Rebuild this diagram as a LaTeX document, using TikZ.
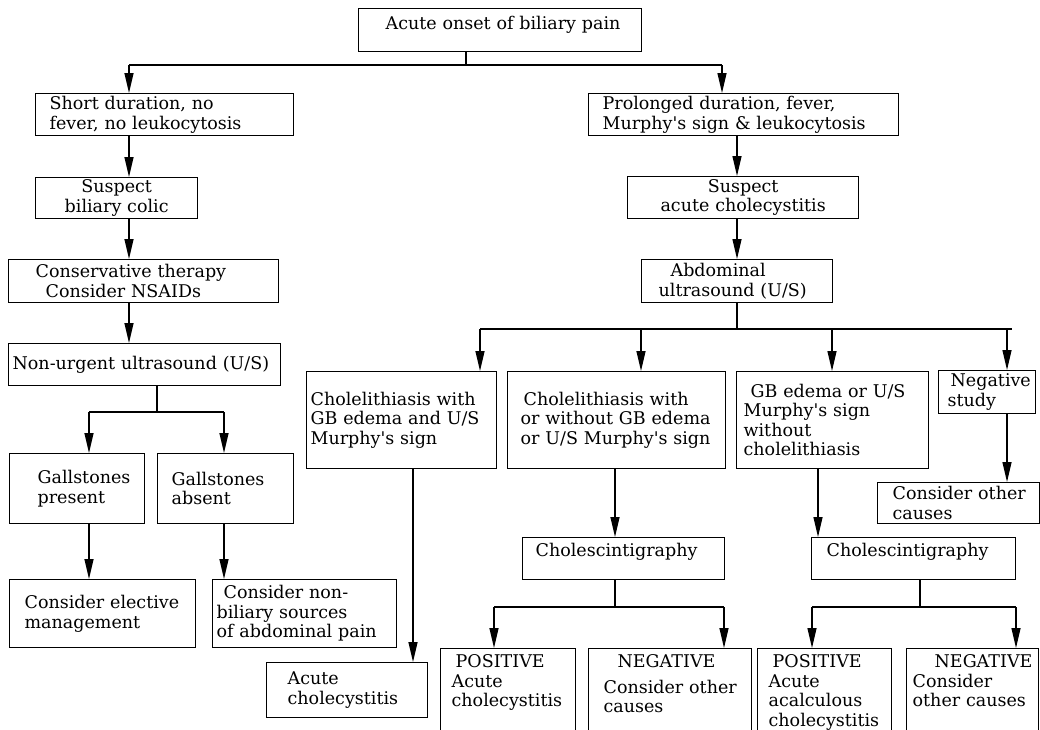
\documentclass[tikz,border=0pt]{standalone}
\usepackage{fontspec}
\setmainfont{DejaVu Serif}
\usetikzlibrary{arrows.meta}

\begin{document}
\begin{tikzpicture}[x=1pt,y=-1pt,
  box/.style={draw,line width=1.3pt,anchor=north west,align=left,
    inner xsep=4pt,inner ysep=2pt,font=\fontsize{17.5}{19.5}\selectfont},
  cell/.style 2 args={text width=#1pt-8pt,minimum height=#2pt},
  toptext/.style 2 args={inner ysep=0pt,text height=#1pt,text depth=#2pt},
  line/.style={line width=1.3pt},
  arr/.style={line,-{Triangle[length=20pt,width=9pt]}}]
\useasboundingbox (0,0) rectangle (1040,729);
\clip (0,0) rectangle (1040,729);

\node[box,cell={283}{0},toptext={21}{22}] (onset) at (358,8) {\hspace*{23pt}Acute onset of biliary pain};

\node[box,cell={258}{42}] (short) at (35,93) {\hspace*{10pt}Short duration, no\\\hspace*{10pt}fever, no leukocytosis};
\node[box,cell={162}{41},align=center] (colic) at (35,177) {Suspect\\biliary colic};
\node[box,cell={270}{43}] (conservative) at (8,259) {\hspace*{23pt}Conservative therapy\\\hspace*{33pt}Consider NSAIDs};
\node[box,cell={272}{42}] (nonurgent) at (8,343) {Non-urgent ultrasound (U/S)};
\node[box,cell={135}{70}] (present) at (9,453) {\hspace*{24pt}Gallstones\\\hspace*{24pt}present};
\node[box,cell={136}{70}] (absent) at (157,453) {\hspace*{10pt}Gallstones\\\hspace*{10pt}absent};
\node[box,cell={186}{68}] (elective) at (9,579) {\hspace*{11pt}Consider elective\\\hspace*{11pt}management};
\node[box,cell={184}{68}] (nonbiliary) at (212,579) {\hspace*{7pt}Consider non-\\biliary sources\\of abdominal pain};

\node[box,cell={310}{42}] (prolonged) at (588,93) {\hspace*{10pt}Prolonged duration, fever,\\\hspace*{10pt}Murphy\textquotesingle s sign \& leukocytosis};
\node[box,cell={231}{42},align=center] (suspect) at (627,176) {Suspect\\acute cholecystitis};
\node[box,cell={191}{43}] (abdominal) at (641,259) {\hspace*{25pt}Abdominal\\\hspace*{13pt}ultrasound (U/S)};

\node[box,cell={190}{97}] (stones) at (306,371) {Cholelithiasis with\\GB edema and U/S\\Murphy\textquotesingle s sign};
\node[box,cell={218}{97}] (stonesany) at (507,371) {\hspace*{12pt}Cholelithiasis with\\\hspace*{9pt}or without GB edema\\\hspace*{9pt}or U/S Murphy\textquotesingle s sign};
\node[box,cell={192}{97}] (edema) at (736,371) {\hspace*{10pt}GB edema or U/S\\\hspace*{3pt}Murphy\textquotesingle s sign\\\hspace*{3pt}without\\\hspace*{3pt}cholelithiasis};
\node[box,cell={97}{43}] (negative) at (938,370) {\hspace*{8pt}\mbox{Negative}\\\hspace*{5pt}study};
\node[box,cell={162}{41}] (others) at (877,482) {\hspace*{11pt}Consider other\\\hspace*{11pt}causes};

\node[box,cell={161}{55}] (acute) at (266,662) {\hspace*{17pt}Acute\\\hspace*{17pt}cholecystitis};
\node[box,cell={202}{0},toptext={19}{23}] (scintA) at (522,537) {\hspace*{9pt}Cholescintigraphy};
\node[box,cell={204}{0},toptext={19}{23}] (scintB) at (811,537) {\hspace*{11pt}Cholescintigraphy};
\node[box,cell={135}{0},toptext={19}{100}] (posA) at (440,648) {\hspace*{11pt}POSITIVE\\\hspace*{7pt}Acute\\\hspace*{7pt}cholecystitis};
\node[box,cell={163}{0},toptext={19}{100}] (negA) at (588,648) {\hspace*{25pt}NEGATIVE\\[6pt]\hspace*{11pt}Consider other\\\hspace*{11pt}causes};
\node[box,cell={134}{0},toptext={19}{100}] (posB) at (757,648) {\hspace*{11pt}POSITIVE\\\hspace*{7pt}Acute\\\hspace*{7pt}acalculous\\\hspace*{7pt}cholecystitis};
\node[box,cell={132}{0},toptext={19}{100}] (negB) at (906,648) {\hspace*{24pt}NEGATIVE\\\hspace*{2pt}Consider\\\hspace*{2pt}other causes};

\coordinate (j0) at (466,65);
\coordinate (k0a) at (129,65);
\coordinate (k0b) at (722,65);
\coordinate (j1) at (157,412);
\coordinate (k1a) at (89,412);
\coordinate (k1b) at (224,412);
\coordinate (j2) at (737,329);
\coordinate (k2a) at (480,329);
\coordinate (k2b) at (641,329);
\coordinate (k2c) at (832,329);
\coordinate (k2d) at (1007,329);
\coordinate (k2end) at (1012,329);
\coordinate (m1) at (413,0);
\coordinate (m2) at (818,0);
\coordinate (j3) at (615,607);
\coordinate (k3a) at (494,607);
\coordinate (k3b) at (724,607);
\coordinate (j4) at (920,607);
\coordinate (k4a) at (812,607);
\coordinate (k4b) at (1016,607);

\draw[line] (onset.south -| j0) -- (j0);
\draw[line] (k0a) -- (k0b);
\draw[arr] (k0a) -- (short.north -| k0a);
\draw[arr] (k0b) -- (prolonged.north -| k0b);

\draw[arr] (short.south -| k0a) -- (colic.north -| k0a);
\draw[arr] (colic.south -| k0a) -- (conservative.north -| k0a);
\draw[arr] (conservative.south -| k0a) -- (nonurgent.north -| k0a);
\draw[line] (nonurgent.south -| j1) -- (j1);
\draw[line] (k1a) -- (k1b);
\draw[arr] (k1a) -- (present.north -| k1a);
\draw[arr] (k1b) -- (absent.north -| k1b);
\draw[arr] (present.south -| k1a) -- (elective.north -| k1a);
\draw[arr] (absent.south -| k1b) -- (nonbiliary.north -| k1b);

\draw[arr] (prolonged.south -| j2) -- (suspect.north -| j2);
\draw[arr] (suspect.south -| j2) -- (abdominal.north -| j2);
\draw[line] (abdominal.south -| j2) -- (j2);
\draw[line] (k2a) -- (k2end);
\draw[arr] (k2a) -- (stones.north -| k2a);
\draw[arr] (k2b) -- (stonesany.north -| k2b);
\draw[arr] (k2c) -- (edema.north -| k2c);
\draw[arr] (k2d) -- (negative.north -| k2d);

\draw[arr] (stones.south -| m1) -- (acute.north -| m1);
\draw[arr] (stonesany.south -| j3) -- (scintA.north -| j3);
\draw[arr] (edema.south -| m2) -- (scintB.north -| m2);
\draw[arr] (negative.south -| k2d) -- (others.north -| k2d);

\draw[line] (scintA.south -| j3) -- (j3);
\draw[line] (k3a) -- (k3b);
\draw[arr] (k3a) -- (posA.north -| k3a);
\draw[arr] (k3b) -- (negA.north -| k3b);
\draw[line] (scintB.south -| j4) -- (j4);
\draw[line] (k4a) -- (k4b);
\draw[arr] (k4a) -- (posB.north -| k4a);
\draw[arr] (k4b) -- (negB.north -| k4b);
\end{tikzpicture}
\end{document}
